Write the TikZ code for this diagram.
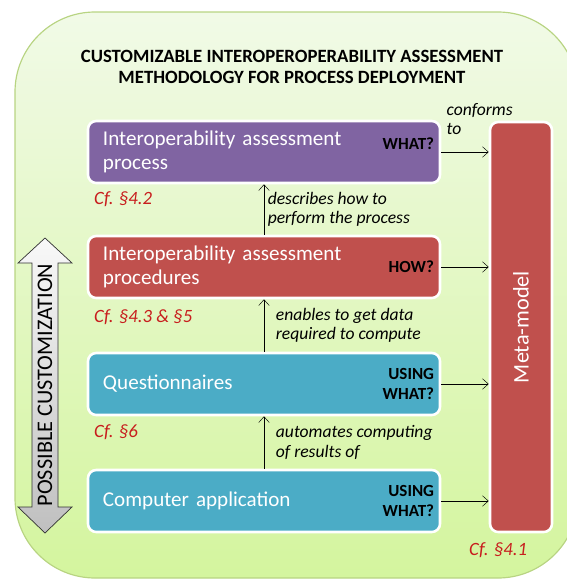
\documentclass[tikz,border=0pt]{standalone}
\usepackage{fontspec}
\setmainfont{Carlito}
\usetikzlibrary{positioning}
\usetikzlibrary{arrows.meta}
\definecolor{bgtop}{RGB}{241,250,231}
\definecolor{bgbot}{RGB}{212,245,158}
\definecolor{bgline}{RGB}{184,212,130}
\definecolor{purp}{RGB}{128,100,162}
\definecolor{redb}{RGB}{192,80,77}
\definecolor{aqua}{RGB}{75,172,198}
\definecolor{cfred}{RGB}{200,30,30}
\tikzset{>={Straight Barb[length=5pt,width=9pt]}}
\tikzset{blk/.style={draw=white,line width=2.2pt,rounded corners=7pt,text=white,
  font=\fontsize{18}{21}\selectfont,align=left,text width=9.66cm,
  inner xsep=0.45cm,minimum height=1.86cm}}
\tikzset{ask/.style={font=\bfseries\fontsize{14.5}{17.5}\selectfont,align=right,inner sep=2pt}}
\tikzset{note/.style={font=\itshape\fontsize{15}{16.5}\selectfont,align=left,inner sep=2pt}}
\tikzset{cf/.style={font=\itshape\fontsize{16}{18}\selectfont,text=cfred,inner sep=0pt}}

\begin{document}
\begin{tikzpicture}[x=0.03cm,y=-0.03cm]
\useasboundingbox (0,0) rectangle (567,579);
\begin{scope}
\clip (0,0) rectangle (567,579);
\draw[bgline,line width=1pt,rounded corners=2.4cm,top color=bgtop,bottom color=bgbot]
  (15,12) rectangle (578,578);
\end{scope}

\node[font=\bfseries\fontsize{16}{18.5}\selectfont,align=center] (title) at (292,67)
  {CUSTOMIZABLE INTEROPEROPERABILITY ASSESSMENT\\METHODOLOGY FOR PROCESS DEPLOYMENT};

% the four layers
\node[blk,fill=purp] (proc) at (264,152) {Interoperability assessment\\process};
\node[blk,fill=redb] (procd) at (264,267) {Interoperability assessment\\procedures};
\node[blk,fill=aqua] (quest) at (264,384) {Questionnaires};
\node[blk,fill=aqua] (app) at (264,501) {Computer application};

\node[ask,anchor=east] (w1) at ([xshift=-4pt,yshift=7pt]proc.east) {WHAT?};
\node[ask,anchor=east] (w2) at ([xshift=-4pt]procd.east) {HOW?};
\node[ask,anchor=east] (w3) at ([xshift=-4pt]quest.east) {USING\\WHAT?};
\node[ask,anchor=east] (w4) at ([xshift=-4pt]app.east) {USING\\WHAT?};

\node[draw=white,line width=2.2pt,rounded corners=7pt,fill=redb,
  minimum width=1.86cm,minimum height=12.3cm] (meta) at (521,327) {};
\node[rotate=90,text=white,font=\fontsize{19}{21}\selectfont] (mtext) at (meta) {Meta-model};

\node[cf,anchor=west] (cf1) at (94,199) {Cf. §4.2};
\node[cf,anchor=west] (cf2) at (94,317) {Cf. §4.3 \& §5};
\node[cf,anchor=west] (cf3) at (94,432) {Cf. §6};
\node[cf,anchor=west] (cf4) at (469,550) {Cf. §4.1};

\node[note,anchor=west] (conf) at (444,119) {conforms\\to};

\draw[->] (procd) -- node[note,right,xshift=1pt] {describes how to\\perform the process} (proc);
\draw[->] (quest) -- node[note,right,xshift=8pt] {enables to get data\\required to compute} (procd);
\draw[->] (app) -- node[note,right,xshift=8pt] {automates computing\\of results of} (quest);

\draw[->] (proc.east) -- (proc.east -| meta.west);
\draw[->] (procd.east) -- (procd.east -| meta.west);
\draw[->] (quest.east) -- (quest.east -| meta.west);
\draw[->] (app.east) -- (app.east -| meta.west);

% customization arrow
\draw[black!80,line width=0.6pt,top color=gray!5,bottom color=gray!50]
  (45,238) -- (72,263) -- (58,263) -- (58,507) -- (72,507) -- (45,533)
  -- (18,507) -- (32,507) -- (32,263) -- (18,263) -- cycle;
\node[rotate=90,font=\fontsize{19}{21}\selectfont] (cust) at (45,385) {POSSIBLE CUSTOMIZATION};
\end{tikzpicture}
\end{document}
